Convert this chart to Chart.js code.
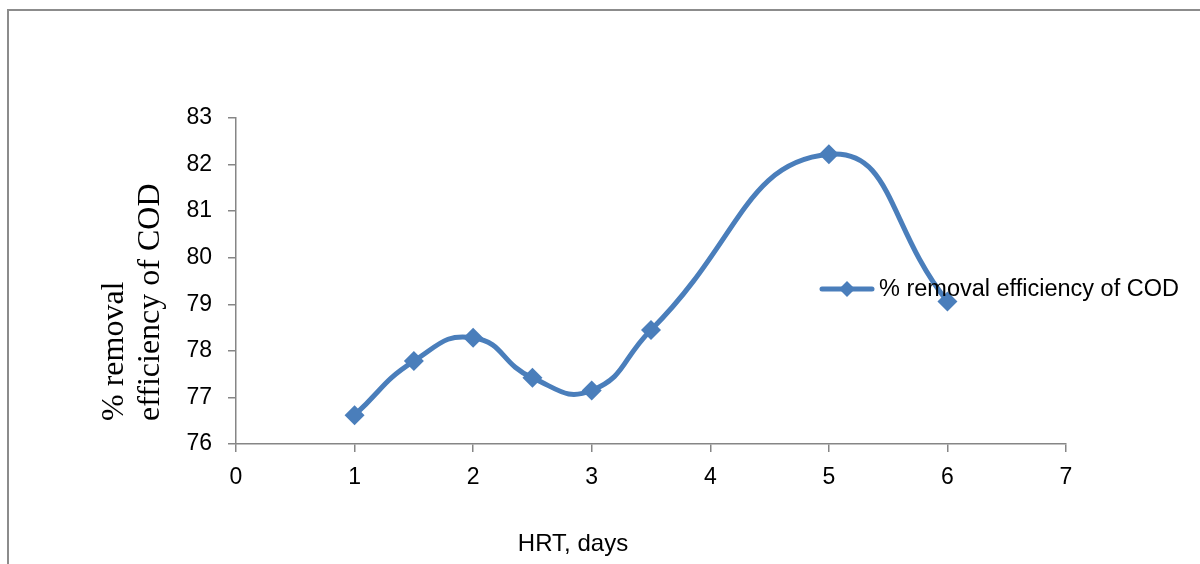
<!DOCTYPE html>
<html>
<head>
<meta charset="utf-8">
<script src="https://cdn.jsdelivr.net/npm/chart.js@4"></script>
<style>
  html, body { margin: 0; padding: 0; background: #fff; }
</style>
</head>
<body>
<canvas id="chart" width="1200" height="564"></canvas>
<script>
// HRT (days) vs % removal efficiency of COD
const hrtDays = [1, 1.5, 2, 2.5, 3, 3.5, 5, 6];
const codRemoval = [76.62, 77.78, 78.28, 77.42, 77.15, 78.45, 82.22, 79.06];
const seriesLabel = '% removal efficiency of COD';
const xTitle = 'HRT, days';
const yTitle = ['% removal', 'efficiency of COD'];

const blue = '#4a7ebb';
const axisGray = '#868686';
const sans = '"Liberation Sans", Arial, sans-serif';
const serif = '"Liberation Serif", "Times New Roman", serif';

// frame, axis titles and the in-plot legend
const extras = {
    id: 'extras',
    afterDraw(chart) {
        const ctx = chart.ctx;
        ctx.save();

        ctx.strokeStyle = '#8c8c8c';
        ctx.lineWidth = 2;
        ctx.beginPath();
        ctx.moveTo(8, 564);
        ctx.lineTo(8, 10);
        ctx.lineTo(1200, 10);
        ctx.stroke();

        ctx.fillStyle = '#000';
        ctx.font = '24px ' + sans;
        ctx.textAlign = 'center';
        ctx.textBaseline = 'alphabetic';
        ctx.fillText(xTitle, 573, 551);

        ctx.font = '32px ' + serif;
        ctx.translate(123, 421);
        ctx.rotate(-Math.PI / 2);
        ctx.textAlign = 'left';
        ctx.fillText(yTitle[0], 0, 0);
        ctx.fillText(yTitle[1], 0, 36);
        ctx.setTransform(1, 0, 0, 1, 0, 0);

        // legend
        const ly = 289;
        ctx.strokeStyle = blue;
        ctx.lineWidth = 5;
        ctx.lineCap = 'round';
        ctx.beginPath();
        ctx.moveTo(822, ly);
        ctx.lineTo(872, ly);
        ctx.stroke();
        ctx.fillStyle = blue;
        ctx.beginPath();
        ctx.moveTo(847, ly - 8);
        ctx.lineTo(855, ly);
        ctx.lineTo(847, ly + 8);
        ctx.lineTo(839, ly);
        ctx.closePath();
        ctx.fill();
        ctx.fillStyle = '#000';
        ctx.font = '23.5px ' + sans;
        ctx.textBaseline = 'middle';
        ctx.fillText(seriesLabel, 879, ly + 1);

        ctx.restore();
    }
};

new Chart('chart', {
    type: 'line',
    data: {
        datasets: [{
            label: seriesLabel,
            data: hrtDays.map((x, i) => ({ x: x, y: codRemoval[i] })),
            borderColor: blue,
            backgroundColor: blue,
            borderWidth: 5,
            tension: 0.5,
            fill: false,
            pointStyle: 'rectRot',
            pointRadius: 10,
            pointHoverRadius: 10,
            pointBorderWidth: 0
        }]
    },
    options: {
        responsive: false,
        animation: false,
        devicePixelRatio: 1,
        layout: { padding: { top: 118, right: 134, left: 0, bottom: 0 } },
        plugins: {
            legend: { display: false },
            tooltip: { enabled: false }
        },
        scales: {
            x: {
                type: 'linear',
                min: 0,
                max: 7,
                afterFit: s => { s.height = 120; },
                grid: { drawOnChartArea: false, color: axisGray, tickLength: 8, lineWidth: 1.5 },
                border: { color: axisGray, width: 1.5 },
                ticks: { stepSize: 1, color: '#000', padding: 12, font: { family: sans, size: 23 } }
            },
            y: {
                min: 76,
                max: 83,
                afterFit: s => { s.width = 236; },
                grid: { drawOnChartArea: false, color: axisGray, tickLength: 8, lineWidth: 1.5 },
                border: { color: axisGray, width: 1.5 },
                ticks: { stepSize: 1, color: '#000', padding: 16, font: { family: sans, size: 23 } }
            }
        }
    },
    plugins: [extras]
});
</script>
</body>
</html>
